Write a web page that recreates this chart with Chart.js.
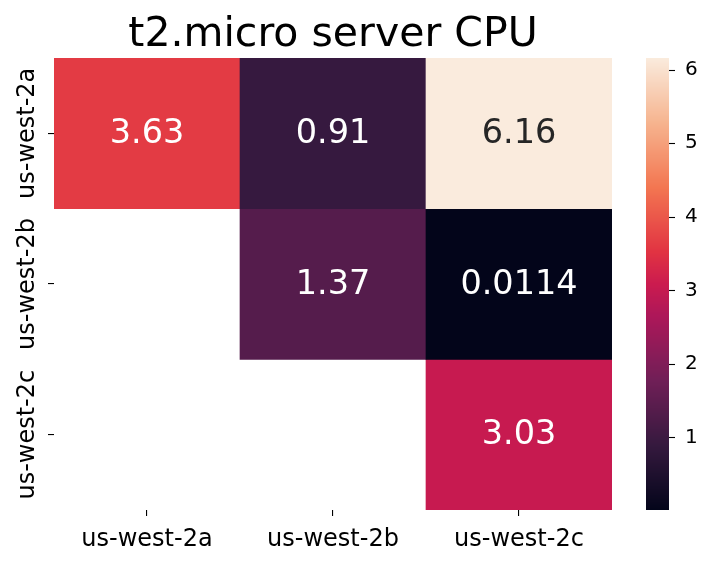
<!DOCTYPE html>
<html>
<head>
<meta charset="utf-8">
<script src="https://cdn.jsdelivr.net/npm/chart.js@4"></script>
<style>
  html, body { margin: 0; padding: 0; background: #ffffff; }
  #wrap { width: 712px; height: 577px; }
</style>
</head>
<body>
<div id="wrap"><canvas id="c" width="712" height="577"></canvas></div>
<script>
// ---- data ----
const columnLabels = ['us-west-2a', 'us-west-2b', 'us-west-2c'];
const rowLabels = ['us-west-2a', 'us-west-2b', 'us-west-2c'];
const row2a = [3.63, 0.91, 6.16];
const row2b = [null, 1.37, 0.0114];
const row2c = [null, null, 3.03];
const cellValues = [row2a, row2b, row2c];
const cellTexts = [['3.63', '0.91', '6.16'], [null, '1.37', '0.0114'], [null, null, '3.03']];
const colorbarTicks = [1, 2, 3, 4, 5, 6];

// ---- rocket colormap ----
const rocketStops = [
  [0.000, [3, 5, 26]],
  [0.143, [53, 25, 62]],
  [0.286, [112, 31, 87]],
  [0.429, [173, 23, 89]],
  [0.500, [203, 27, 79]],
  [0.571, [225, 51, 66]],
  [0.714, [243, 118, 81]],
  [0.857, [246, 180, 143]],
  [1.000, [250, 235, 221]]
];
function rocketRGB(t) {
  t = Math.max(0, Math.min(1, t));
  for (let i = 1; i < rocketStops.length; i++) {
    if (t <= rocketStops[i][0]) {
      const [t0, c0] = rocketStops[i - 1], [t1, c1] = rocketStops[i];
      const f = (t - t0) / (t1 - t0);
      return c0.map((v, k) => Math.round(v + (c1[k] - v) * f));
    }
  }
  return rocketStops[rocketStops.length - 1][1];
}
const allVals = cellValues.flat().filter(v => v !== null);
const vmin = Math.min(...allVals), vmax = Math.max(...allVals);
function colorFor(v) {
  const c = rocketRGB((v - vmin) / (vmax - vmin));
  return `rgb(${c[0]},${c[1]},${c[2]})`;
}
function textColorFor(v) {
  const c = rocketRGB((v - vmin) / (vmax - vmin)).map(x => {
    x /= 255; return x <= 0.03928 ? x / 12.92 : Math.pow((x + 0.055) / 1.055, 2.4);
  });
  const lum = 0.2126 * c[0] + 0.7152 * c[1] + 0.0722 * c[2];
  return lum > 0.408 ? '#262626' : '#ffffff';
}

const FONT = '"DejaVu Sans", sans-serif';
const tickFontSize = 24;
// measure widest y label for centering the rotated labels
const mctx = document.createElement('canvas').getContext('2d');
mctx.font = `${tickFontSize}px ${FONT}`;
const widestY = Math.max(...rowLabels.map(l => mctx.measureText(l).width));
const yAxisWidth = 54, yTick = 6, yLabelCenterX = 28;

function zeroPad(scale) {
  scale.paddingTop = 0; scale.paddingBottom = 0;
  scale.paddingLeft = 0; scale.paddingRight = 0;
}

const datasets = cellValues.map((row, i) => ({
  label: rowLabels[i],
  data: row.map(v => v === null ? null : [i, i + 1]),
  backgroundColor: row.map(v => v === null ? 'rgba(0,0,0,0)' : colorFor(v)),
  borderWidth: 0,
  borderSkipped: false,
  grouped: false,
  categoryPercentage: 1.0,
  barPercentage: 1.0,
  yAxisID: 'y'
}));

const annotatePlugin = {
  id: 'annotate',
  afterDatasetsDraw(chart) {
    const ctx = chart.ctx;
    ctx.save();
    ctx.font = `33.5px ${FONT}`;
    ctx.textAlign = 'center';
    ctx.textBaseline = 'middle';
    chart.data.datasets.forEach((ds, i) => {
      const meta = chart.getDatasetMeta(i);
      meta.data.forEach((el, j) => {
        const v = cellValues[i][j];
        if (v === null) return;
        const p = el.getCenterPoint();
        ctx.fillStyle = textColorFor(v);
        ctx.fillText(cellTexts[i][j], p.x, p.y + 1);
      });
    });
    ctx.restore();
  }
};

const colorbarPlugin = {
  id: 'colorbar',
  afterDraw(chart) {
    const s = chart.scales.cb;
    const ctx = chart.ctx;
    const x0 = chart.chartArea.right + 34, w = 23;
    ctx.save();
    for (let py = Math.floor(s.top); py < Math.ceil(s.bottom); py++) {
      const v = s.getValueForPixel(py + 0.5);
      ctx.fillStyle = colorFor(v);
      ctx.fillRect(x0, py, w, 1);
    }
    ctx.strokeStyle = '#000';
    ctx.lineWidth = 1.1;
    colorbarTicks.forEach(t => {
      const y = Math.round(s.getPixelForValue(t)) + 0.5;
      ctx.beginPath();
      ctx.moveTo(x0 + w, y);
      ctx.lineTo(x0 + w + 6, y);
      ctx.stroke();
    });
    ctx.restore();
  }
};

new Chart(document.getElementById('c'), {
  type: 'bar',
  data: { labels: columnLabels, datasets },
  options: {
    responsive: false,
    devicePixelRatio: 1,
    animation: false,
    layout: { padding: 0 },
    plugins: {
      legend: { display: false },
      tooltip: { enabled: false },
      title: {
        display: true,
        text: 't2.micro server CPU',
        fullSize: false,
        color: '#000',
        font: { family: FONT, size: 41, weight: 'normal', lineHeight: 1.0 },
        padding: { top: 14.5, bottom: 2.5 }
      }
    },
    scales: {
      x: {
        type: 'category',
        offset: true,
        grid: { display: true, offset: false, drawOnChartArea: false, drawTicks: true, tickLength: 6, color: '#000', lineWidth: 1.1 },
        border: { display: false },
        ticks: { color: '#000', font: { family: FONT, size: tickFontSize }, padding: 9, maxRotation: 0, minRotation: 0 },
        afterFit(scale) { scale.height = 67; zeroPad(scale); }
      },
      y: {
        type: 'linear',
        position: 'left',
        reverse: true,
        min: 0, max: 3,
        grid: { display: true, drawOnChartArea: false, drawTicks: true, tickLength: yTick, color: '#000', lineWidth: 1.1 },
        border: { display: false },
        afterBuildTicks(scale) { scale.ticks = rowLabels.map((l, i) => ({ value: i + 0.5 })); },
        ticks: {
          color: '#000',
          font: { family: FONT, size: tickFontSize },
          minRotation: 90, maxRotation: 90,
          crossAlign: 'center',
          padding: yAxisWidth - yTick - yLabelCenterX - widestY / 2,
          callback: (v) => rowLabels[Math.floor(v)]
        },
        afterFit(scale) { scale.width = yAxisWidth; zeroPad(scale); }
      },
      cb: {
        type: 'linear',
        position: 'right',
        min: vmin, max: vmax,
        grid: { display: false },
        border: { display: false },
        afterBuildTicks(scale) { scale.ticks = colorbarTicks.map(v => ({ value: v })); },
        ticks: { color: '#000', font: { family: FONT, size: 20 }, padding: 65 },
        afterFit(scale) { scale.width = 100; zeroPad(scale); }
      }
    }
  },
  plugins: [annotatePlugin, colorbarPlugin]
});
</script>
</body>
</html>
